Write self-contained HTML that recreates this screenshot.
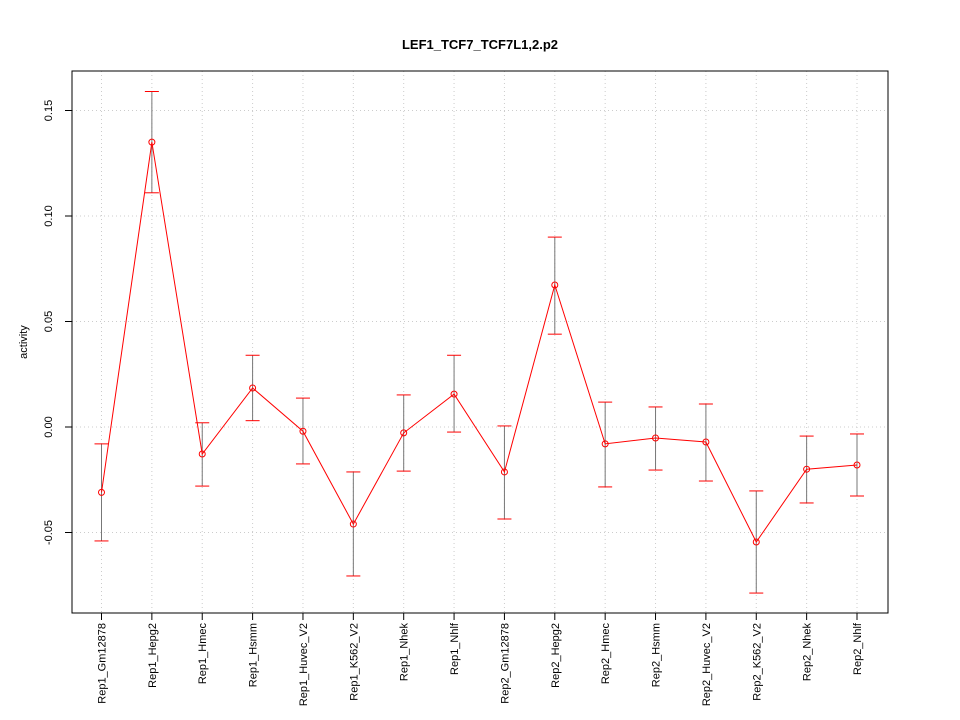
<!DOCTYPE html>
<html><head><meta charset="utf-8"><style>body{margin:0;background:#fff}svg{display:block;font-family:"Liberation Sans",sans-serif}</style></head>
<body>
<svg id="chart" width="960" height="720"></svg>
<script>
const categories=["Rep1_Gm12878","Rep1_Hepg2","Rep1_Hmec","Rep1_Hsmm","Rep1_Huvec_V2","Rep1_K562_V2","Rep1_Nhek","Rep1_Nhlf","Rep2_Gm12878","Rep2_Hepg2","Rep2_Hmec","Rep2_Hsmm","Rep2_Huvec_V2","Rep2_K562_V2","Rep2_Nhek","Rep2_Nhlf"];
const values=[-0.031,0.135,-0.0128,0.0185,-0.002,-0.046,-0.0028,0.0156,-0.0213,0.0673,-0.008,-0.0052,-0.0071,-0.0545,-0.020,-0.018];
const upper=[-0.008,0.159,0.002,0.034,0.0137,-0.0213,0.0152,0.034,0.0005,0.090,0.0118,0.0095,0.0109,-0.0303,-0.0043,-0.0033];
const lower=[-0.054,0.111,-0.028,0.003,-0.0175,-0.0706,-0.0209,-0.0024,-0.0436,0.044,-0.0284,-0.0204,-0.0256,-0.0787,-0.036,-0.0327];
const yTicks=[-0.05,0,0.05,0.10,0.15];
const yTickLabels=["-0.05","0.00","0.05","0.10","0.15"];
const svg=document.getElementById('chart');
const NS='http://www.w3.org/2000/svg';
const L=72,R=888,T=71,B=613;
const x=i=>101.5+i*(857-101.5)/(categories.length-1);
const y=v=>427-v*2110;
function mk(tag,attrs,parent){const e=document.createElementNS(NS,tag);for(const k in attrs)e.setAttribute(k,attrs[k]);(parent||svg).appendChild(e);return e;}
let t=mk('text',{x:480,y:49,'text-anchor':'middle','font-size':13,'font-weight':'bold'});t.textContent='LEF1_TCF7_TCF7L1,2.p2';


categories.forEach((c,i)=>{const g=mk('line',{x1:x(i),x2:x(i),y1:T,y2:B,stroke:'#ccc','stroke-dasharray':'1,3'});

});
yTicks.forEach(v=>{const g=mk('line',{x1:L,x2:R,y1:y(v),y2:y(v),stroke:'#ccc','stroke-dasharray':'1,3'});

});
const box=mk('rect',{x:L,y:T,width:R-L,height:B-T,fill:'none',stroke:'#000'});


yTicks.forEach((v,i)=>{mk('line',{x1:L-7,x2:L,y1:y(v),y2:y(v),stroke:'#000'});
const lb=mk('text',{x:0,y:0,transform:`translate(${L-20},${y(v)}) rotate(-90)`,'text-anchor':'middle','font-size':11});lb.textContent=yTickLabels[i];

});
const yt=mk('text',{x:0,y:0,transform:`translate(27,342) rotate(-90)`,'text-anchor':'middle','font-size':11});yt.textContent='activity';


categories.forEach((c,i)=>{mk('line',{x1:x(i),x2:x(i),y1:B,y2:B+7,stroke:'#000'});
const lb=mk('text',{x:0,y:0,transform:`translate(${x(i)+4},${B+10}) rotate(-90)`,'text-anchor':'end','font-size':11});lb.textContent=c;

});
categories.forEach((c,i)=>{const g=mk('g',{});


mk('line',{x1:x(i),x2:x(i),y1:y(upper[i]),y2:y(lower[i]),stroke:'#777'},g);
mk('line',{x1:x(i)-7,x2:x(i)+7,y1:y(upper[i]),y2:y(upper[i]),stroke:'red'},g);
mk('line',{x1:x(i)-7,x2:x(i)+7,y1:y(lower[i]),y2:y(lower[i]),stroke:'red'},g);});
const pl=mk('polyline',{points:values.map((v,i)=>x(i)+','+y(v)).join(' '),fill:'none',stroke:'red'});


values.forEach((v,i)=>{const p=mk('circle',{cx:x(i),cy:y(v),r:3,fill:'none',stroke:'red'});

});
</script>
</body></html>
